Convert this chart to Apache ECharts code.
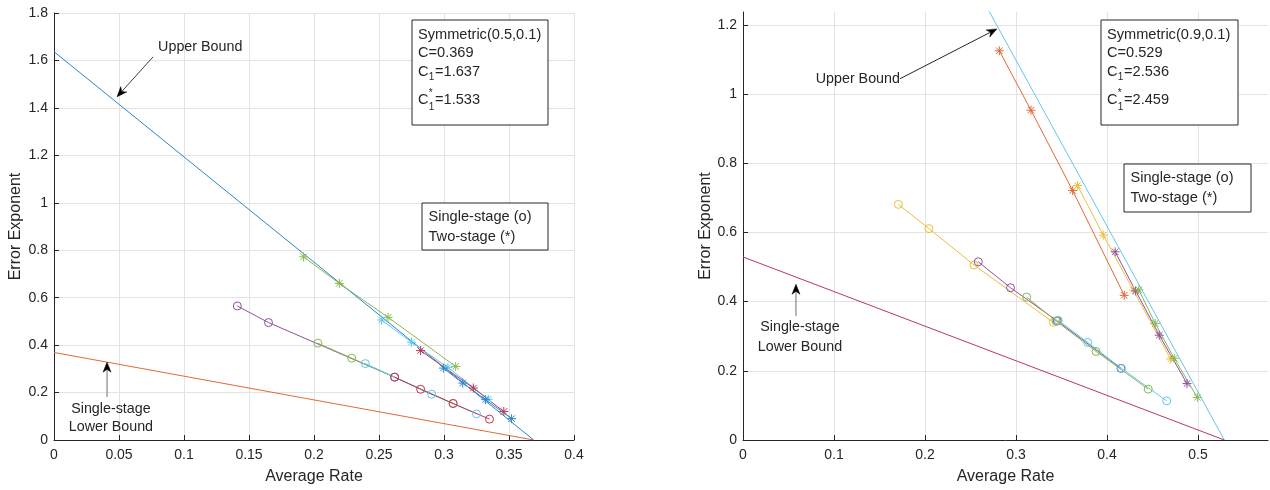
<!DOCTYPE html>
<html><head><meta charset="utf-8">
<script src="https://cdn.jsdelivr.net/npm/echarts@6/dist/echarts.min.js"></script>
<style>html,body{margin:0;padding:0;background:#fff}#c{width:1270px;height:490px}</style>
</head><body><div id="c"></div>
<script>
// ---------- Left panel: Symmetric(0.5,0.1) ----------
const L_upperBound = [[0, 1.637], [0.369, 0]];
const L_lowerBound = [[0, 0.369], [0.369, 0]];
const L_single_purple = [[0.141, 0.565], [0.165, 0.495], [0.262, 0.265]];
const L_single_green = [[0.203, 0.408], [0.229, 0.345], [0.307, 0.154]];
const L_single_lightblue = [[0.2395, 0.322], [0.2905, 0.193], [0.325, 0.11]];
const L_single_darkred = [[0.262, 0.265], [0.282, 0.214], [0.307, 0.154], [0.335, 0.088]];
const L_two_green = [[0.192, 0.772], [0.2195, 0.66], [0.257, 0.517], [0.309, 0.31]];
const L_two_lightblue = [[0.252, 0.506], [0.275, 0.412], [0.303, 0.306], [0.334, 0.172]];
const L_two_darkred = [[0.282, 0.377], [0.3226, 0.219], [0.346, 0.12]];
const L_two_blue = [[0.2995, 0.303], [0.3144, 0.24], [0.332, 0.17], [0.352, 0.09]];
const L_info = ['Symmetric(0.5,0.1)', 'C=0.369', '=1.637', '=1.533'];

// ---------- Right panel: Symmetric(0.9,0.1) ----------
const R_upperBound = [[0, 2.536], [0.529, 0]];
const R_lowerBound = [[0, 0.529], [0.529, 0]];
const R_two_orange = [[0.2817, 1.125], [0.3165, 0.953], [0.3623, 0.721], [0.419, 0.418]];
const R_two_yellow = [[0.3676, 0.7355], [0.396, 0.592], [0.429, 0.433], [0.47, 0.234]];
const R_two_purple = [[0.409, 0.544], [0.4315, 0.431], [0.4575, 0.303], [0.488, 0.163]];
const R_two_green = [[0.435, 0.434], [0.453, 0.337], [0.474, 0.236], [0.4993, 0.123]];
const R_single_yellow = [[0.1707, 0.681], [0.2044, 0.611], [0.2538, 0.506], [0.341, 0.34]];
const R_single_purple = [[0.2586, 0.515], [0.294, 0.44], [0.3454, 0.344], [0.4154, 0.207]];
const R_single_green = [[0.3117, 0.413], [0.344, 0.344], [0.388, 0.256], [0.4454, 0.147]];
const R_single_lightblue = [[0.3465, 0.346], [0.3788, 0.282], [0.416, 0.207], [0.4656, 0.113]];
const R_info = ['Symmetric(0.9,0.1)', 'C=0.529', '=2.536', '=2.459'];

const legendLines = ['Single-stage (o)', 'Two-stage (*)'];

// MATLAB default colours, slightly lightened as they appear in the reference
const C = {blue:'#2a86cc', orange:'#e26a38', yellow:'#f0bd40', purple:'#9050a0',
           green:'#88b850', lightblue:'#62c6f0', darkred:'#b83a55'};
const FONT = "'Liberation Sans', Arial, Helvetica, sans-serif";
const TXT = '#262626';
const GRIDC = '#e3e3e3';
const STAR = 'path://M0,-5L0,5M-5,0L5,0M-3.6,-3.6L3.6,3.6M-3.6,3.6L3.6,-3.6';

const chart = echarts.init(document.getElementById('c'), null, {renderer: 'canvas'});

function xAx(gi, max, hideMax) {
  return {type:'value', gridIndex:gi, min:0, max:max, interval: gi===0?0.05:0.1,
    name:'Average Rate', nameLocation:'middle', nameGap:29,
    nameTextStyle:{fontFamily:FONT, fontSize:16, color:TXT},
    axisLine:{show:true, onZero:false, lineStyle:{color:TXT, width:1}},
    axisTick:{show:true, inside:true, length:5, lineStyle:{color:TXT}},
    axisLabel:{fontFamily:FONT, fontSize:14, color:TXT, margin:8, showMaxLabel: !hideMax, showMinLabel:true},
    splitLine:{show:true, showMaxLine: !hideMax, lineStyle:{color:GRIDC, width:1}}};
}
function yAx(gi, max, hideMax, gap) {
  return {type:'value', gridIndex:gi, min:0, max:max, interval:0.2,
    name:'Error Exponent', nameLocation:'middle', nameGap:gap, nameRotate:90,
    nameTextStyle:{fontFamily:FONT, fontSize:16, color:TXT},
    axisLine:{show:true, onZero:false, lineStyle:{color:TXT, width:1}},
    axisTick:{show:true, inside:true, length:5, lineStyle:{color:TXT}},
    axisLabel:{fontFamily:FONT, fontSize:14, color:TXT, margin:6, showMaxLabel: !hideMax, showMinLabel:true},
    splitLine:{show:true, showMaxLine: !hideMax, lineStyle:{color:GRIDC, width:1}}};
}
function ln(gi, data, color, sym) {
  return {type:'line', xAxisIndex:gi, yAxisIndex:gi, data:data,
    symbol: sym ? (sym === 'o' ? 'circle' : STAR) : 'none',
    symbolSize: sym === 'o' ? 8 : 9, showSymbol: !!sym, showAllSymbol:true,
    lineStyle:{color:color, width:1},
    itemStyle:{color:'rgba(0,0,0,0)', borderColor:color, borderWidth:1},
    animation:false, silent:true, clip:true};
}

const series = [
  ln(0, L_upperBound, C.blue), ln(0, L_lowerBound, C.orange),
  ln(0, L_single_purple, C.purple, 'o'), ln(0, L_single_green, C.green, 'o'),
  ln(0, L_single_lightblue, C.lightblue, 'o'), ln(0, L_single_darkred, C.darkred, 'o'),
  ln(0, L_two_green, C.green, '*'), ln(0, L_two_lightblue, C.lightblue, '*'),
  ln(0, L_two_darkred, C.darkred, '*'), ln(0, L_two_blue, C.blue, '*'),
  ln(1, R_upperBound, C.lightblue), ln(1, R_lowerBound, C.darkred),
  ln(1, R_two_orange, C.orange, '*'), ln(1, R_two_yellow, C.yellow, '*'),
  ln(1, R_two_purple, C.purple, '*'), ln(1, R_two_green, C.green, '*'),
  ln(1, R_single_yellow, C.yellow, 'o'), ln(1, R_single_purple, C.purple, 'o'),
  ln(1, R_single_green, C.green, 'o'), ln(1, R_single_lightblue, C.lightblue, 'o')
];

chart.setOption({
  backgroundColor:'#ffffff', animation:false,
  grid:[{left:54, right:696, top:13, bottom:49, containLabel:false},
        {left:743, right:2, top:12, bottom:49, containLabel:false}],
  xAxis:[xAx(0, 0.4, false), xAx(1, 0.577, true)],
  yAxis:[yAx(0, 1.8, false, 30), yAx(1, 1.237, true, 24)],
  series:series
});

// ---------- annotations ----------
function px(gi, p) { return chart.convertToPixel({gridIndex:gi}, p); }
function txt(x, y, s, size, align) {
  return {type:'text', x:x, y:y, silent:true, z:100,
    style:{text:s, font: (size||14.6) + 'px ' + FONT, fill:TXT, align: align||'left', verticalAlign:'middle'}};
}
function arrow(p0, p1, shaftColor) {
  const dx = p1[0]-p0[0], dy = p1[1]-p0[1], L = Math.hypot(dx, dy);
  const ux = dx/L, uy = dy/L, nx = -uy, ny = ux;
  const hl = 10, hw = 4;
  const b = [p1[0]-ux*hl, p1[1]-uy*hl];
  const notch = [p1[0]-ux*hl*0.7, p1[1]-uy*hl*0.7];
  return [
    {type:'line', silent:true, z:100, shape:{x1:p0[0], y1:p0[1], x2:notch[0], y2:notch[1]},
      style:{stroke:shaftColor, lineWidth:1}},
    {type:'polygon', silent:true, z:101, shape:{points:[p1, [b[0]+nx*hw, b[1]+ny*hw], notch, [b[0]-nx*hw, b[1]-ny*hw]]},
      style:{fill:'#000', stroke:'#000', lineWidth:0.5}}
  ];
}
function infoBox(x0, y0, w, h, lines) {
  const tx = x0 + 6;
  return [
    {type:'rect', silent:true, z:90, shape:{x:x0, y:y0, width:w, height:h},
      style:{fill:'#fff', stroke:'#262626', lineWidth:1}},
    txt(tx, y0+15, lines[0]), txt(tx, y0+33, lines[1]),
    txt(tx, y0+52, 'C'), txt(tx+10.8, y0+57, '1', 10), txt(tx+17, y0+52, lines[2]),
    txt(tx, y0+80, 'C'), txt(tx+10.8, y0+73, '*', 10), txt(tx+10.8, y0+87, '1', 10), txt(tx+17, y0+80, lines[3])
  ];
}
function legBox(x0, y0, w, h) {
  return [
    {type:'rect', silent:true, z:90, shape:{x:x0, y:y0, width:w, height:h},
      style:{fill:'#fff', stroke:'#262626', lineWidth:1}},
    txt(x0+6.5, y0+14, legendLines[0]), txt(x0+6.5, y0+34, legendLines[1])
  ];
}

let g = [];
g = g.concat(infoBox(412, 20, 136, 105, L_info));
g = g.concat(infoBox(1101, 20, 137, 105, R_info));
g = g.concat(legBox(422, 203, 126, 47));
g = g.concat(legBox(1124, 164, 127, 48));
// left upper bound label
let t = px(0, [0.1125, 1.655]);
g.push(txt(t[0], t[1], 'Upper Bound', 14.3, 'center'));
g = g.concat(arrow(px(0, [0.0762, 1.615]), px(0, [0.0485, 1.447]), '#404040'));
// left lower bound label
t = px(0, [0.0438, 0.13]); g.push(txt(t[0], t[1], 'Single-stage', 14.3, 'center'));
t = px(0, [0.0438, 0.055]); g.push(txt(t[0], t[1], 'Lower Bound', 14.3, 'center'));
g = g.concat(arrow(px(0, [0.0408, 0.181]), px(0, [0.0408, 0.328]), '#707070'));
// right upper bound label
t = px(1, [0.1725, 1.044]); g.push(txt(t[0], t[1], 'Upper Bound', 14.3, 'right'));
g = g.concat(arrow(px(1, [0.1725, 1.044]), px(1, [0.279, 1.188]), '#262626'));
// right lower bound label
t = px(1, [0.0626, 0.326]); g.push(txt(t[0], t[1], 'Single-stage', 14.3, 'center'));
t = px(1, [0.0626, 0.268]); g.push(txt(t[0], t[1], 'Lower Bound', 14.3, 'center'));
g = g.concat(arrow(px(1, [0.0582, 0.358]), px(1, [0.0582, 0.45]), '#707070'));

chart.setOption({graphic:{elements:g}});
</script>
</body></html>
